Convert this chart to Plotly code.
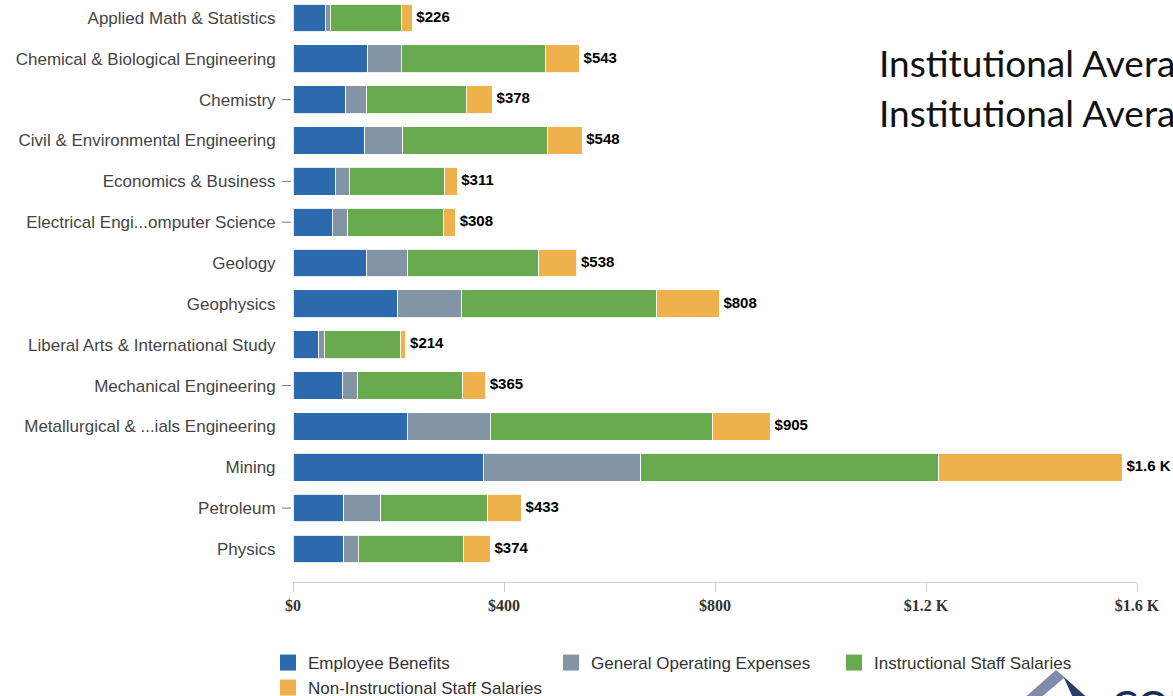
import plotly.graph_objects as go

categories = [
    "Applied Math & Statistics",
    "Chemical & Biological Engineering",
    "Chemistry",
    "Civil & Environmental Engineering",
    "Economics & Business",
    "Electrical Engi...omputer Science",
    "Geology",
    "Geophysics",
    "Liberal Arts & International Study",
    "Mechanical Engineering",
    "Metallurgical & ...ials Engineering",
    "Mining",
    "Petroleum",
    "Physics",
]

employee_benefits = [61, 142, 100, 136, 80, 74, 140, 199, 49, 93, 217, 361, 96, 96]
general_operating = [10, 63, 40, 72, 27, 30, 78, 121, 10, 30, 157, 298, 70, 28]
instructional_salaries = [134, 273, 188, 275, 180, 182, 248, 370, 144, 199, 421, 565, 203, 199]
non_instructional_salaries = [21, 65, 50, 65, 24, 22, 72, 118, 11, 43, 110, 348, 64, 51]

total_labels = ["$226", "$543", "$378", "$548", "$311", "$308", "$538", "$808",
                "$214", "$365", "$905", "$1.6 K", "$433", "$374"]

series_names = ["Employee Benefits", "General Operating Expenses",
                "Instructional Staff Salaries", "Non-Instructional Staff Salaries"]
series_colors = ["#2d6aad", "#8395a4", "#69aa4f", "#efb14c"]
legend_groups = ["legend", "legend", "legend", "legend2"]

x_tickvals = [0, 400, 800, 1200, 1600]
x_ticktext = ["$0", "$400", "$800", "$1.2 K", "$1.6 K"]

tick_mark_categories = ["Chemistry", "Economics & Business",
                        "Electrical Engi...omputer Science",
                        "Mechanical Engineering", "Petroleum"]

fig = go.Figure()
all_series = [employee_benefits, general_operating, instructional_salaries,
              non_instructional_salaries]
for name, vals, col in zip(series_names, all_series, series_colors):
    fig.add_trace(go.Bar(
        y=categories, x=vals, orientation="h", name=name,
        marker=dict(color=col, line=dict(color="rgba(255,255,255,0.85)", width=1)),
        width=0.68, showlegend=False, hoverinfo="x+name",
    ))

# legend proxies with larger square symbols
for name, col, lg in zip(series_names, series_colors, legend_groups):
    fig.add_trace(go.Scatter(
        x=[None], y=[None], mode="markers", name=name,
        marker=dict(symbol="square", size=16, color=col),
        showlegend=True, legend=lg,
    ))

totals = [a + b + c + d for a, b, c, d in zip(*all_series)]
fig.add_trace(go.Scatter(
    x=totals, y=categories, mode="text", text=total_labels,
    texttemplate=" %{text}",
    textposition="middle right",
    textfont=dict(family="Liberation Sans, Arial", size=15, color="#000000", weight="bold"),
    showlegend=False, hoverinfo="skip", cliponaxis=False,
))

shapes = []
for c in tick_mark_categories:
    shapes.append(dict(type="line", xref="paper", yref="y",
                       x0=-11 / 844, x1=-2 / 844, y0=c, y1=c,
                       line=dict(color="#777777", width=1)))

# logo fragment bottom-right
def px(xp, yp):
    return ((xp - 293) / 844, (582 - yp) / 582)

pts_left = [px(1022, 700), px(1056, 670), px(1064, 678), px(1038, 700)]
pts_right = [px(1056, 670), px(1090, 700), px(1074, 700), px(1064, 678)]
def path(pts):
    return "M " + " L ".join(f"{a:.5f},{b:.5f}" for a, b in pts) + " Z"
shapes.append(dict(type="path", xref="paper", yref="paper", path=path(pts_left),
                   fillcolor="#7f8cab", line=dict(width=0)))
shapes.append(dict(type="path", xref="paper", yref="paper", path=path(pts_right),
                   fillcolor="#2b3d69", line=dict(width=0)))

annotations = [
    dict(text="Institutional Average", xref="paper", yref="paper",
         x=(877 - 293) / 844, y=(582 - 63) / 582, xanchor="left", yanchor="middle",
         showarrow=False, font=dict(family="Lato, Noto Sans", size=37, color="#111111")),
    dict(text="Institutional Average", xref="paper", yref="paper",
         x=(877 - 293) / 844, y=(582 - 113) / 582, xanchor="left", yanchor="middle",
         showarrow=False, font=dict(family="Lato, Noto Sans", size=37, color="#111111")),
    dict(text="COLORADO", xref="paper", yref="paper",
         x=(1110 - 293) / 844, y=(582 - 680) / 582, xanchor="left", yanchor="top",
         showarrow=False, font=dict(family="Lato, Noto Sans", size=40, color="#1c2d55"),
         borderpad=0),
]

legend_font = dict(family="Liberation Sans, Arial", size=17, color="#333333")

fig.update_layout(
    width=1173, height=696,
    margin=dict(l=293, r=36, t=0, b=114, autoexpand=False),
    paper_bgcolor="white", plot_bgcolor="white",
    barmode="stack",
    shapes=shapes,
    annotations=annotations,
    showlegend=True,
    legend=dict(
        orientation="h", traceorder="normal",
        x=(268 - 293) / 844, xanchor="left",
        y=(582 - 645) / 582, yanchor="top",
        font=legend_font,
        entrywidth=238, entrywidthmode="pixels",
        itemsizing="trace", bgcolor="rgba(0,0,0,0)",
    ),
    legend2=dict(
        orientation="h", traceorder="normal",
        x=(268 - 293) / 844, xanchor="left",
        y=(582 - 670) / 582, yanchor="top",
        font=legend_font,
        entrywidth=238, entrywidthmode="pixels",
        itemsizing="trace", bgcolor="rgba(0,0,0,0)",
    ),
    xaxis=dict(
        range=[0, 1600], tickvals=x_tickvals, ticktext=x_ticktext,
        showgrid=False, zeroline=False, showline=True, linecolor="#d0d0d0",
        ticks="outside", ticklen=9, tickcolor="#cccccc",
        ticklabelstandoff=0,
        tickfont=dict(family="Liberation Serif, DejaVu Serif", size=16, color="#333333", weight="bold"),
        fixedrange=True,
    ),
    yaxis=dict(
        categoryorder="array", categoryarray=categories,
        range=[13.81, -0.44],
        showgrid=False, zeroline=False, showline=False,
        ticks="outside", ticklen=13, tickcolor="rgba(0,0,0,0)",
        tickfont=dict(family="Liberation Sans, Arial", size=17, color="#444444"),
        fixedrange=True,
    ),
)

fig.write_html("out.html")
